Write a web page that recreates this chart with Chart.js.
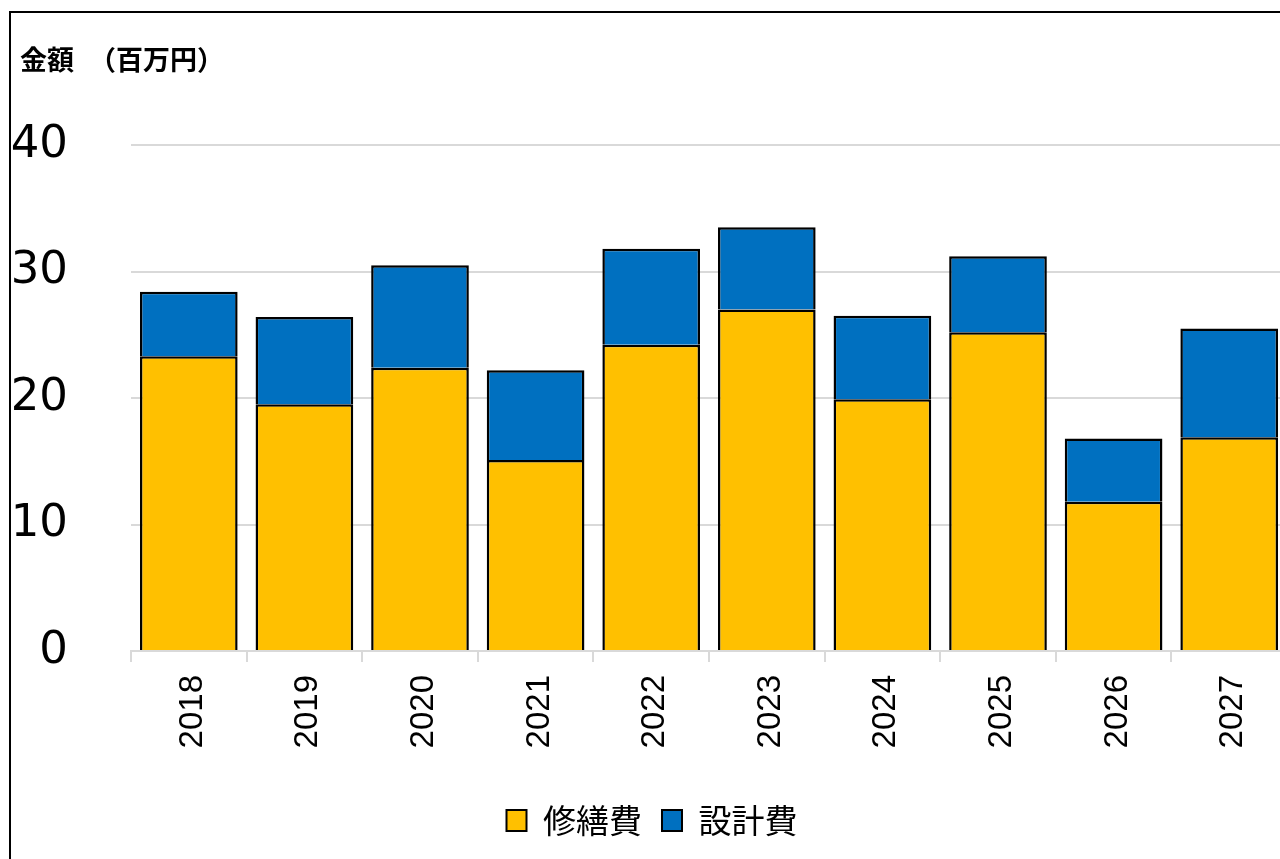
<!DOCTYPE html>
<html>
<head>
<meta charset="utf-8">
<script src="https://cdn.jsdelivr.net/npm/chart.js@4/dist/chart.umd.min.js"></script>
<style>
  html, body { margin: 0; padding: 0; background: #fff; overflow: hidden; width: 1280px; height: 859px; }
  #wrap { position: relative; width: 1280px; height: 859px; overflow: hidden; }
  #c { position: absolute; left: 0; top: 0; }
  #frame { position: absolute; left: 9px; top: 11px; width: 1400px; height: 1000px; border: 2px solid #000; box-sizing: border-box; pointer-events: none; }
  #title { position: absolute; left: 20px; top: 45px; font-family: "Noto Sans CJK JP", sans-serif; font-weight: bold; font-size: 27px; line-height: 27px; color: #000; white-space: pre; }
  #title span { margin-left: 15px; }
</style>
</head>
<body>
<div id="wrap">
  <canvas id="c" width="1304" height="859" style="width:1304px;height:859px"></canvas>
  <div id="frame"></div>
  <div id="title">金額<span>（百万円）</span></div>
</div>
<script>
const categories = ['2018', '2019', '2020', '2021', '2022', '2023', '2024', '2025', '2026', '2027'];
const repairCost = [23.3, 19.5, 22.4, 15.1, 24.2, 27.0, 19.9, 25.2, 11.8, 16.9];
const designCost = [5.1, 6.9, 8.1, 7.1, 7.6, 6.5, 6.6, 6.0, 5.0, 8.6];
const seriesNames = ['修繕費', '設計費'];
const yTicks = [0, 10, 20, 30, 40];

const barBorder = { left: 2.5, right: 2.5, top: 2.5, bottom: 0 };

const ctx = document.getElementById('c').getContext('2d');
new Chart(ctx, {
  type: 'bar',
  data: {
    labels: categories,
    datasets: [
      {
        label: seriesNames[0],
        data: repairCost,
        backgroundColor: '#FFC000',
        borderColor: '#000000',
        borderWidth: barBorder,
        borderSkipped: false,
        categoryPercentage: 0.845,
        barPercentage: 1.0
      },
      {
        label: seriesNames[1],
        data: designCost,
        backgroundColor: '#0070C0',
        borderColor: '#000000',
        borderWidth: barBorder,
        borderSkipped: false,
        categoryPercentage: 0.845,
        barPercentage: 1.0
      }
    ]
  },
  options: {
    responsive: false,
    animation: false,
    devicePixelRatio: 1,
    layout: { padding: { left: 0, right: 0, top: 145, bottom: 12 } },
    plugins: {
      title: { display: false },
      tooltip: { enabled: false },
      legend: {
        position: 'bottom',
        labels: {
          font: { family: '"Noto Sans CJK JP", sans-serif', size: 33 },
          color: '#000',
          boxWidth: 20,
          boxHeight: 21,
          padding: 20,
          generateLabels(chart) {
            return chart.data.datasets.map((ds, i) => ({
              text: ds.label,
              fillStyle: ds.backgroundColor,
              strokeStyle: '#000',
              lineWidth: 2,
              hidden: false,
              datasetIndex: i,
              fontColor: '#000'
            }));
          }
        }
      }
    },
    scales: {
      x: {
        stacked: true,
        grid: {
          display: true,
          offset: true,
          drawOnChartArea: false,
          drawTicks: true,
          tickLength: 11,
          color: '#d9d9d9',
          lineWidth: 2
        },
        border: { display: true, color: '#d9d9d9', width: 2 },
        ticks: {
          minRotation: 90,
          maxRotation: 90,
          autoSkip: false,
          padding: 13,
          labelOffset: 4,
          color: '#000',
          font: { family: '"Liberation Sans", Arial, sans-serif', size: 33 }
        },
        afterFit(scale) { scale.height = 133; }
      },
      y: {
        stacked: true,
        min: 0,
        max: 40,
        afterBuildTicks(scale) { scale.ticks = yTicks.map(v => ({ value: v })); },
        grid: {
          color: '#d9d9d9',
          lineWidth: 2,
          drawTicks: false
        },
        border: { display: false },
        ticks: {
          padding: 63,
          color: '#000',
          font: { family: '"DejaVu Sans", sans-serif', size: 45 }
        },
        afterFit(scale) { scale.width = 131; }
      },
      yRight: {
        position: 'right',
        display: true,
        grid: { display: false, drawOnChartArea: false },
        border: { display: false },
        ticks: { display: false },
        afterFit(scale) { scale.width = 17; }
      }
    }
  }
});
</script>
</body>
</html>
